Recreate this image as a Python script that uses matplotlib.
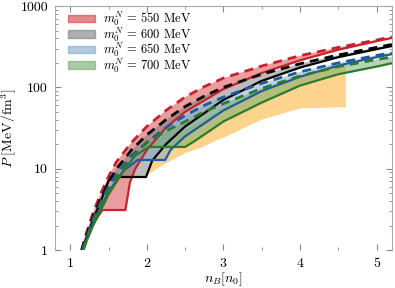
import matplotlib
matplotlib.use("Agg")
import matplotlib.pyplot as plt
from matplotlib.patches import Patch
from matplotlib.ticker import FixedLocator, NullFormatter

plt.rcParams["font.family"] = "serif"
plt.rcParams["font.serif"] = ["cmr10"]
plt.rcParams["mathtext.fontset"] = "cm"
plt.rcParams["axes.formatter.use_mathtext"] = True

# ── data ──────────────────────────────────────────────────────────────────
labels = ["550", "600", "650", "700"]
colors = ["#c8232c", "#000000", "#1f5c9c", "#2c7a2c"]
fills = ["#d63a3f", "#7a7a7a", "#7fa6cc", "#6fa86a"]

# upper (dashed) curves
nb_dash = [
    [1.15, 1.2, 1.3, 1.4, 1.5, 1.6, 1.8, 2.0, 2.25, 2.5, 2.75, 3.0, 3.5, 4.0, 4.5, 5.0, 5.2],
    [1.15, 1.2, 1.3, 1.4, 1.5, 1.6, 1.8, 2.0, 2.25, 2.5, 2.75, 3.0, 3.5, 4.0, 4.5, 5.0, 5.2],
    [1.16, 1.2, 1.3, 1.4, 1.5, 1.6, 1.8, 2.0, 2.25, 2.5, 2.75, 3.0, 3.5, 4.0, 4.5, 5.0, 5.2],
    [1.17, 1.2, 1.3, 1.4, 1.5, 1.6, 1.8, 2.0, 2.25, 2.5, 2.75, 3.0, 3.5, 4.0, 4.5, 5.0, 5.2],
]
p_dash = [
    [1.0, 1.5, 2.9, 5.0, 8.0, 12.0, 21.0, 33.0, 52.0, 76.0, 102.0, 130.0, 183.0, 245.0, 310.0, 382.0, 418.0],
    [1.0, 1.4, 2.6, 4.3, 6.8, 9.8, 17.0, 26.0, 40.0, 58.0, 78.0, 100.0, 145.0, 195.0, 250.0, 310.0, 337.0],
    [1.0, 1.3, 2.4, 3.9, 6.0, 8.5, 14.5, 21.0, 32.0, 45.0, 60.0, 76.0, 112.0, 155.0, 200.0, 247.0, 266.0],
    [1.0, 1.2, 2.2, 3.6, 5.4, 7.6, 13.5, 21.0, 29.0, 38.0, 50.0, 63.0, 97.0, 138.0, 180.0, 220.0, 236.0],
]

# lower (solid) curves with the phase-transition plateau
nb_solid = [
    [1.16, 1.2, 1.3, 1.42, 1.72, 1.78, 1.85, 2.0, 2.25, 2.5, 3.0, 3.5, 4.0, 4.5, 5.0, 5.2],
    [1.16, 1.2, 1.3, 1.4, 1.52, 1.99, 2.07, 2.25, 2.5, 3.0, 3.5, 4.0, 4.5, 5.0, 5.2],
    [1.16, 1.2, 1.3, 1.5, 1.7, 1.88, 2.24, 2.31, 2.5, 3.0, 3.5, 4.0, 4.5, 5.0, 5.2],
    [1.17, 1.2, 1.3, 1.5, 1.7, 1.85, 2.03, 2.5, 2.63, 3.0, 3.5, 4.0, 4.5, 5.0, 5.2],
]
p_solid = [
    [1.0, 1.35, 2.1, 3.1, 3.1, 6.8, 10.0, 17.0, 32.0, 50.0, 95.0, 150.0, 215.0, 290.0, 370.0, 405.0],
    [1.0, 1.3, 2.4, 4.0, 7.9, 7.9, 12.5, 20.0, 33.0, 70.0, 120.0, 175.0, 235.0, 295.0, 322.0],
    [1.0, 1.25, 2.2, 5.2, 9.5, 12.8, 12.8, 17.0, 25.0, 52.0, 90.0, 135.0, 185.0, 235.0, 256.0],
    [1.0, 1.2, 2.0, 4.8, 9.5, 14.5, 18.5, 18.5, 22.0, 38.0, 65.0, 105.0, 145.0, 180.0, 198.0],
]

# orange constraint band
band_nb_lo = [1.98, 2.2, 2.5, 2.7, 2.9, 3.0, 3.5, 4.0, 4.6]
band_p_lo = [8.0, 11.0, 15.5, 18.0, 22.0, 24.0, 40.0, 55.0, 57.0]
band_nb_hi = [1.98, 2.1, 2.25, 2.5, 3.0, 3.5, 4.0, 4.6]
band_p_hi = [8.0, 14.0, 20.0, 30.0, 55.0, 90.0, 135.0, 190.0]

# ── figure ────────────────────────────────────────────────────────────────
fig = plt.figure(figsize=(3.95, 2.88), dpi=100)
ax = fig.add_axes([0.139, 0.132, 0.853, 0.847])

ax.fill(band_nb_lo + band_nb_hi[::-1], band_p_lo + band_p_hi[::-1],
        color="#fdd38e", lw=0, zorder=1)

handles = []
for i in range(4):
    xs = nb_dash[i] + nb_solid[i][::-1]
    ys = p_dash[i] + p_solid[i][::-1]
    ax.fill(xs, ys, color=fills[i], alpha=0.5, lw=0, zorder=2 + i)
    ax.plot(nb_solid[i], p_solid[i], color=colors[i], lw=1.6, zorder=6 + i)
    ax.plot(nb_dash[i], p_dash[i], color=colors[i], lw=2.0, ls=(0, (3.2, 2.2)),
            zorder=10 + i)
    handles.append(Patch(facecolor=fills[i], edgecolor=fills[i], alpha=0.6,
                         label=rf"$m_0^N\,=\,{labels[i]}$ MeV"))

ax.set_yscale("log")
ax.set_xlim(0.8, 5.2)
ax.set_ylim(1, 1000)
ax.set_yticks([1, 10, 100, 1000])
ax.set_yticklabels(["1", "10", "100", "1000"])
ax.yaxis.set_minor_formatter(NullFormatter())
ax.set_xticks([1, 2, 3, 4, 5])
ax.set_xticklabels(["1", "2", "3", "4", "5"])
ax.xaxis.set_minor_locator(FixedLocator([1.5, 2.5, 3.5, 4.5]))

ax.tick_params(which="both", direction="in", top=True, right=True,
               color="#888888", labelsize=10)
ax.tick_params(axis="x", pad=6)
ax.tick_params(axis="y", pad=5)
ax.tick_params(which="major", length=4)
ax.tick_params(which="minor", length=2)
for side in ["left", "top", "right"]:
    ax.spines[side].set_color("#aaaaaa")
    ax.spines[side].set_linewidth(0.8)
ax.spines["bottom"].set_visible(False)

ax.set_xlabel(r"$n_B[n_0]$", fontsize=10, labelpad=0)
ax.set_ylabel(r"$P\ [\mathrm{MeV/fm^3}]$", fontsize=10, labelpad=1)

ax.legend(handles=handles, loc="upper left", bbox_to_anchor=(0.027, 1.0),
          frameon=False, fontsize=9, handlelength=2.2, handleheight=0.6,
          labelspacing=-0.22, borderaxespad=0.0, borderpad=0.3,
          handletextpad=0.6)

fig.savefig("out.png", dpi=100)
